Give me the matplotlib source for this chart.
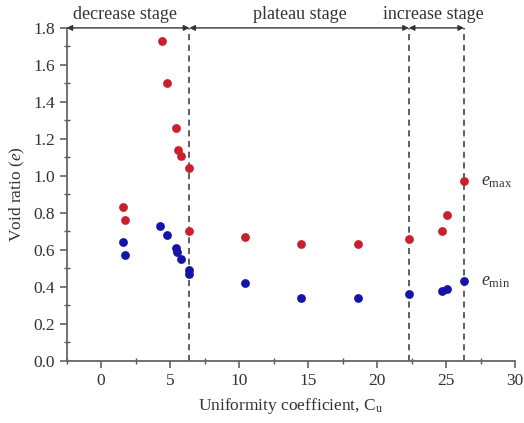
import matplotlib
matplotlib.use("Agg")
import matplotlib.pyplot as plt
from matplotlib.ticker import MultipleLocator

cu_emax = [1.6, 1.7, 4.4, 4.8, 5.4, 5.6, 5.8, 6.4, 6.4, 10.4, 14.5, 18.6, 22.3, 24.7, 25.1, 26.3]
emax = [0.83, 0.76, 1.73, 1.50, 1.26, 1.14, 1.11, 1.04, 0.70, 0.67, 0.63, 0.63, 0.66, 0.70, 0.79, 0.97]
cu_emin = [1.6, 1.7, 4.3, 4.8, 5.4, 5.5, 5.8, 6.4, 6.4, 10.4, 14.5, 18.6, 22.3, 24.7, 25.1, 26.3]
emin = [0.64, 0.57, 0.73, 0.68, 0.61, 0.59, 0.55, 0.49, 0.47, 0.42, 0.34, 0.34, 0.36, 0.38, 0.39, 0.43]

boundaries = [-2.5, 6.4, 22.3, 26.3]
stage_labels = ["decrease stage", "plateau stage", "increase stage"]
stage_label_x = [1.75, 14.4, 24.1]

plt.rcParams['font.family'] = ['Liberation Serif', 'DejaVu Serif']
plt.rcParams['mathtext.fontset'] = 'custom'
plt.rcParams['mathtext.rm'] = 'Liberation Serif'
plt.rcParams['mathtext.it'] = 'Liberation Serif:italic'

fig = plt.figure(figsize=(5.24, 4.23), dpi=100)
ax = fig.add_axes([0.127, 0.147, 0.856, 0.787])

red = '#c8202c'
blue = '#1414a8'
ax.scatter(cu_emax, emax, s=40, color=red, zorder=3, linewidths=0)
ax.scatter(cu_emin, emin, s=40, color=blue, zorder=3, linewidths=0)

for b in boundaries[1:]:
    ax.plot([b, b], [0, 1.8], ls=(0, (4, 3)), color='#333333', lw=1.1, zorder=2)

for i in range(3):
    ax.annotate('', xy=(boundaries[i], 1.8), xytext=(boundaries[i + 1], 1.8),
                arrowprops=dict(arrowstyle='<|-|>', color='#333333', lw=1.0,
                                mutation_scale=8, shrinkA=0, shrinkB=0),
                annotation_clip=False)
    ax.text(stage_label_x[i], 1.825, stage_labels[i], ha='center', va='bottom',
            fontsize=13, color='#333333')

ax.text(27.5, emax[-1], r'$e_{\rm max}$', fontsize=13, va='center', ha='left', color='#333333')
ax.text(27.5, emin[-1], r'$e_{\rm min}$', fontsize=13, va='center', ha='left', color='#333333')

ax.set_xlim(-2.5, 30)
ax.set_ylim(0, 1.8)
ax.xaxis.set_major_locator(MultipleLocator(5))
ax.xaxis.set_minor_locator(MultipleLocator(2.5))
ax.yaxis.set_major_locator(MultipleLocator(0.2))
ax.yaxis.set_minor_locator(MultipleLocator(0.1))
ax.yaxis.set_major_formatter(matplotlib.ticker.FormatStrFormatter('%.1f'))

for s in ['top', 'right']:
    ax.spines[s].set_visible(False)
for s in ['left', 'bottom']:
    ax.spines[s].set_color('#666666')
    ax.spines[s].set_linewidth(1.3)

ax.tick_params(which='major', direction='out', length=5, width=1.1, color='#555555',
               labelsize=12.5, labelcolor='#333333')
ax.tick_params(which='minor', direction='inout', length=4, width=1.0, color='#555555')

ax.set_xlabel('Uniformity coefficient, C$_{\\rm u}$', fontsize=12.5, color='#333333', labelpad=5)
ax.set_ylabel('Void ratio ($e$)', fontsize=12.5, color='#333333')

fig.savefig('out.png', dpi=100)
